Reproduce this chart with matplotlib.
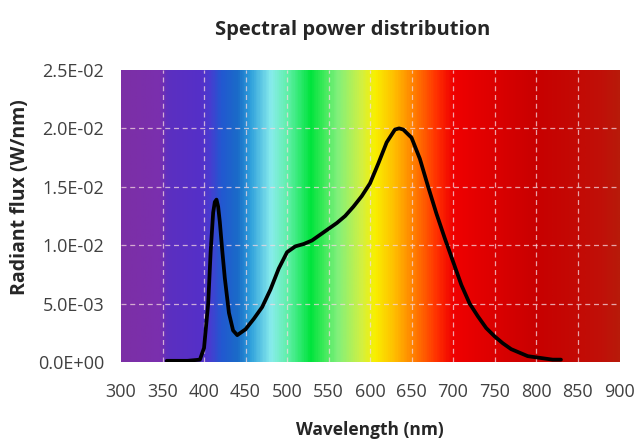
import numpy as np
import matplotlib
matplotlib.use("Agg")
import matplotlib.pyplot as plt
from matplotlib.colors import LinearSegmentedColormap

# spectrum (nm, W/nm)
wavelength = [355, 380, 395, 400, 405, 408, 411, 413, 415, 417, 419, 422, 425, 430, 435,
              440, 450, 460, 470, 480, 490, 500, 510, 520, 530, 540, 550, 560, 570,
              580, 590, 600, 610, 620, 630, 635, 640, 650, 660, 670, 680, 690, 700,
              710, 720, 730, 740, 750, 760, 770, 780, 790, 800, 810, 820, 830]
flux = [0.0001, 0.0001, 0.0002, 0.0012, 0.0050, 0.0095, 0.0128, 0.0137, 0.0139, 0.0133,
        0.0120, 0.0095, 0.0072, 0.0042, 0.0027,
        0.0023, 0.0028, 0.0037, 0.0047, 0.0062, 0.0080, 0.0094, 0.0099, 0.0101, 0.0104,
        0.0109, 0.0114, 0.0119, 0.0125, 0.0133, 0.0142, 0.0153, 0.0170, 0.0188, 0.0199,
        0.0200, 0.0199, 0.0192, 0.0174, 0.0150, 0.0127, 0.0106, 0.0086, 0.0066, 0.0050,
        0.0039, 0.0029, 0.0022, 0.0016, 0.0011, 0.0008, 0.0005, 0.0004, 0.0003, 0.0002,
        0.0002]

x_ticks = list(range(300, 901, 50))
y_ticks = [0.0, 0.005, 0.010, 0.015, 0.020, 0.025]

# background rainbow: (nm, colour)
bg_nm = [300, 345, 355, 395, 405, 420, 440, 455, 480, 500, 528, 560, 590, 605, 628,
         652, 680, 700, 740, 800, 880, 900]
bg_col = ["#7c2fa6", "#7a2fae", "#5c2fc0", "#5530c8", "#4a3ad0", "#2258d0", "#1a6cc8",
          "#2fa0dc", "#88ecec", "#60f0a8", "#00e43c", "#80f07c", "#d4f040", "#f8f000",
          "#ffc000", "#ff8000", "#ff3000", "#f00000", "#e00000", "#c80000", "#c01008",
          "#b81a0a"]

plt.rcParams['font.family'] = ['Open Sans', 'DejaVu Sans']

fig = plt.figure(figsize=(6.35, 4.44), dpi=100)
ax = fig.add_axes([0.1906, 0.1847, 0.7843, 0.6577])

stops = [(n - 300) / 600 for n in bg_nm]
cmap = LinearSegmentedColormap.from_list("spec", list(zip(stops, bg_col)))
ax.imshow(np.linspace(0, 1, 600).reshape(1, -1), cmap=cmap, aspect="auto",
          extent=[300, 900, 0, 0.025], zorder=0)

# dashed grid only inside the plot area
grid_kw = dict(color="#f4d8e0", ls=(0, (4, 3)), lw=0.9, alpha=0.75, zorder=1)
for xv in x_ticks[1:-1]:
    ax.axvline(xv, **grid_kw)
for yv in y_ticks[1:-1]:
    ax.axhline(yv, **grid_kw)

ax.plot(wavelength, flux, color="black", lw=2.7, solid_capstyle="round",
        solid_joinstyle="round", zorder=3)

ax.set_xlim(300, 900)
ax.set_ylim(0, 0.025)
ax.set_xticks(x_ticks)
ax.set_yticks(y_ticks)
ax.set_yticklabels(["{:.1E}".format(v) for v in y_ticks])
for s in ax.spines.values():
    s.set_visible(False)
ax.tick_params(length=0, labelsize=13, labelcolor="#404040")
ax.tick_params(axis="x", pad=15)
ax.tick_params(axis="y", pad=12)

fig.text(0.556, 0.932, "Spectral power distribution", ha="center", va="center",
         fontsize=14.5, fontweight="bold", color="#262626")
fig.text(0.583, 0.032, "Wavelength (nm)", ha="center", va="center",
         fontsize=12.5, fontweight="bold", color="#262626")
fig.text(0.032, 0.556, "Radiant flux (W/nm)", ha="center", va="center", rotation=90,
         fontsize=14, fontweight="bold", color="#262626")

fig.savefig("out.png", dpi=100)
